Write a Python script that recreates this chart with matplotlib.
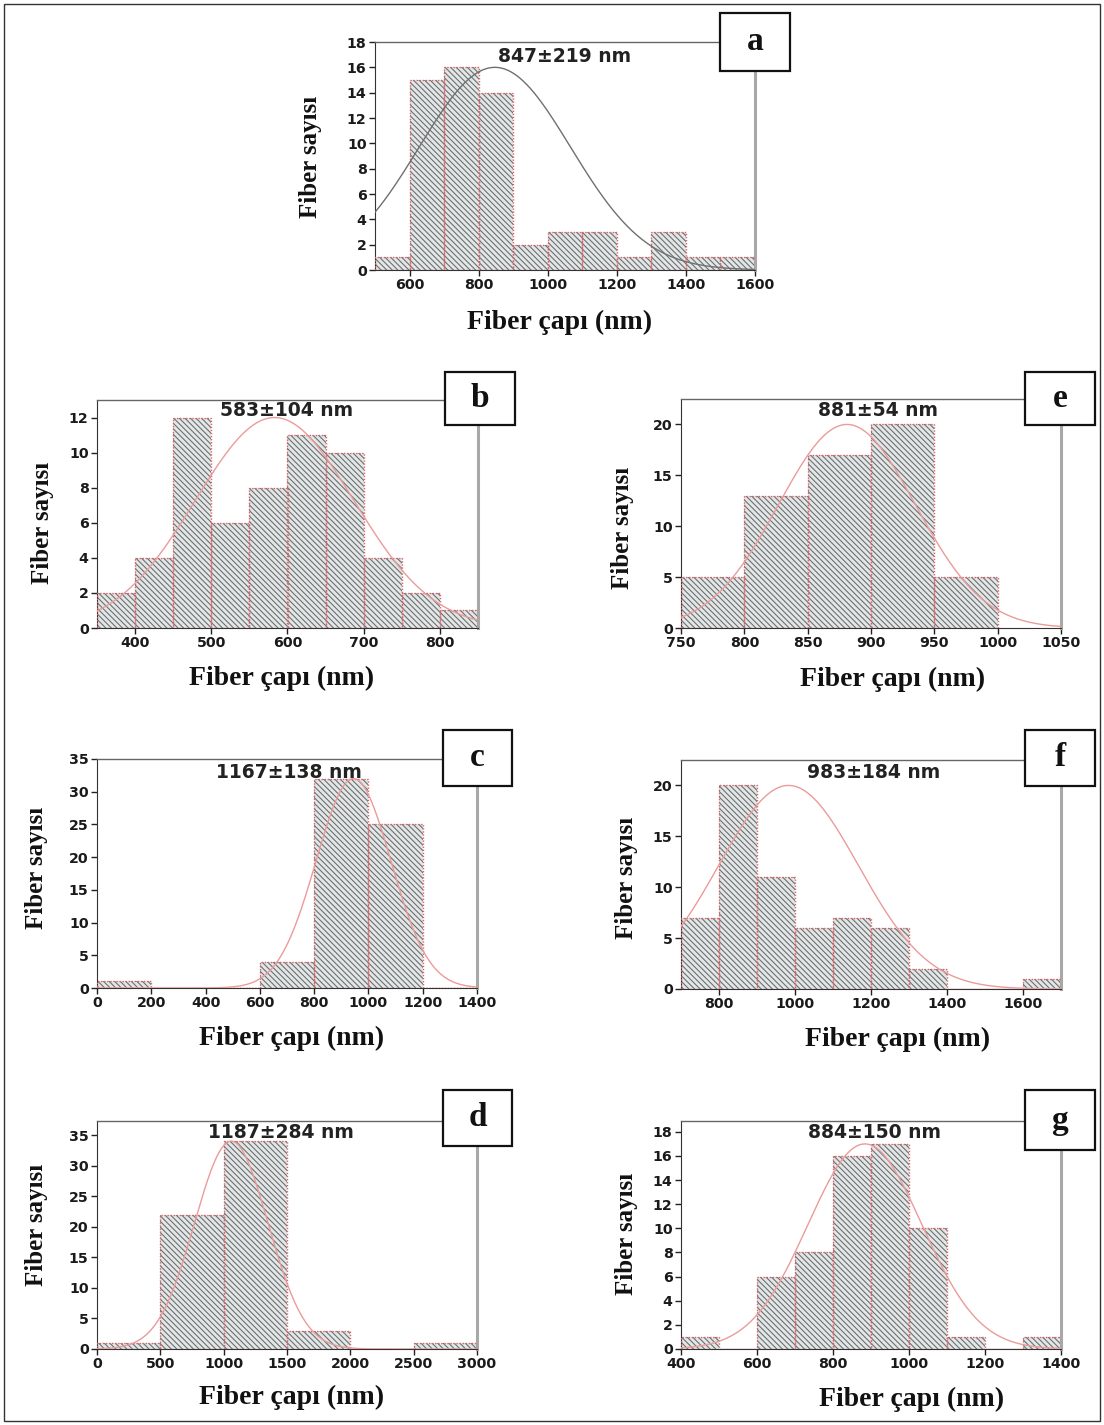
import matplotlib
matplotlib.use("Agg")
import matplotlib.pyplot as plt
import numpy as np
from matplotlib.patches import Rectangle

W, H = 1104, 1425

# histogram counts per panel (bins of equal width starting at bin_start)
panels     = ["a", "b", "e", "c", "f", "d", "g"]
bin_start  = {"a": 500, "b": 350, "e": 750, "c": 0,   "f": 700, "d": 0,   "g": 400}
bin_width  = {"a": 100, "b": 50,  "e": 50,  "c": 200, "f": 100, "d": 500, "g": 100}
counts = {
    "a": [1, 15, 16, 14, 2, 3, 3, 1, 3, 1, 1],
    "b": [2, 4, 12, 6, 8, 11, 10, 4, 2, 1],
    "e": [5, 13, 17, 20, 5],
    "c": [1, 0, 0, 4, 32, 25, 0],
    "f": [7, 20, 11, 6, 7, 6, 2, 0, 0, 1],
    "d": [1, 22, 34, 3, 0, 1],
    "g": [1, 0, 6, 8, 16, 17, 10, 1, 0, 1],
}
mean_sd = {"a": (847, 219), "b": (583, 104), "e": (881, 54), "c": (1167, 138),
           "f": (983, 184), "d": (1187, 284), "g": (884, 150)}
# normal fit curves as plotted: centre, width, height
fit_mu    = {"a": 847, "b": 583, "e": 881, "c": 945, "f": 983, "d": 1060, "g": 884}
fit_sigma = {"a": 219, "b": 104, "e": 54,  "c": 138, "f": 184, "d": 290,  "g": 150}
fit_peak  = {"a": 16,  "b": 12,  "e": 20,  "c": 32,  "f": 20,  "d": 34,   "g": 17}

xlims = {"a": (500, 1600), "b": (350, 850), "e": (750, 1050), "c": (0, 1400),
         "f": (700, 1700), "d": (0, 3000), "g": (400, 1400)}
ylims = {"a": 18, "b": 13, "e": 22.5, "c": 35, "f": 22.5, "d": 37.3, "g": 18.9}
xticks = {"a": np.arange(600, 1601, 200), "b": np.arange(400, 801, 100),
          "e": np.arange(750, 1051, 50), "c": np.arange(0, 1401, 200),
          "f": np.arange(800, 1601, 200), "d": np.arange(0, 3001, 500),
          "g": np.arange(400, 1401, 200)}
yticks = {"a": np.arange(0, 19, 2), "b": np.arange(0, 13, 2), "e": np.arange(0, 21, 5),
          "c": np.arange(0, 36, 5), "f": np.arange(0, 21, 5), "d": np.arange(0, 36, 5),
          "g": np.arange(0, 19, 2)}

# layout in pixels: axes (left, top, right, bottom), letter box, label spots
axes_px = {"a": (375, 42, 755, 270), "b": (97, 400, 478, 628), "e": (681, 399, 1061, 628),
           "c": (97, 759, 477, 988), "f": (681, 760, 1061, 989), "d": (97, 1121, 477, 1349),
           "g": (681, 1121, 1061, 1349)}
box_px = {"a": (720, 13, 790, 71), "b": (445, 372, 515, 425), "e": (1025, 372, 1095, 425),
          "c": (443, 730, 512, 786), "f": (1025, 730, 1095, 786), "d": (443, 1090, 512, 1146),
          "g": (1025, 1090, 1095, 1150)}
note_px = {"a": (565, 56), "b": (287, 410), "e": (878, 410), "c": (289, 772),
           "f": (874, 773), "d": (281, 1132), "g": (874, 1133)}
ylab_px = {"a": (310, 157), "b": (42, 523), "e": (622, 528), "c": (36, 868),
           "f": (626, 878), "d": (36, 1225), "g": (626, 1234)}
xlab_px = {"a": (560, 322), "b": (282, 678), "e": (893, 679), "c": (292, 1038),
           "f": (898, 1039), "d": (292, 1397), "g": (912, 1399)}

SERIF = "Liberation Serif"
SANS = "DejaVu Sans"
plt.rcParams["hatch.linewidth"] = 0.8

fig = plt.figure(figsize=(W / 100, H / 100), dpi=100)
fig.patch.set_facecolor("white")


def fx(x):
    return x / W


def fy(y):
    return 1 - y / H


for p in panels:
    l, t, r, b = axes_px[p]
    ax = fig.add_axes([fx(l), fy(b), (r - l) / W, (b - t) / H])
    n = len(counts[p])
    lefts = bin_start[p] + bin_width[p] * np.arange(n)
    # hatched grey fill, then red dotted outlines
    ax.bar(lefts, counts[p], width=bin_width[p], align="edge", facecolor="#e3e7e7",
           edgecolor="#6c7070", hatch="\\" * 6, linewidth=0, zorder=2)
    ax.bar(lefts, counts[p], width=bin_width[p], align="edge", facecolor="none",
           edgecolor="#d9646a", linestyle=(0, (1, 1.2)), linewidth=1.0, zorder=3)
    xs = np.linspace(*xlims[p], 400)
    ys = fit_peak[p] * np.exp(-(xs - fit_mu[p]) ** 2 / (2 * fit_sigma[p] ** 2))
    ax.plot(xs, ys, color="#707070" if p == "a" else "#ec9a9a", lw=1.0, zorder=4)

    ax.set_xlim(*xlims[p])
    ax.set_ylim(0, ylims[p])
    ax.set_xticks(xticks[p])
    ax.set_yticks(yticks[p])
    ax.tick_params(axis="both", direction="out", length=4, width=1, color="#222222",
                   labelsize=10.2, pad=2)
    for lab in ax.get_xticklabels() + ax.get_yticklabels():
        lab.set_fontfamily(SANS)
        lab.set_fontweight("bold")
        lab.set_color("#1a1a1a")
    ax.spines["left"].set_color("#333333")
    ax.spines["bottom"].set_color("#333333")
    ax.spines["top"].set_color("#666666")
    ax.spines["top"].set_linewidth(1.0)
    ax.spines["right"].set_color("#a8a8a8")
    ax.spines["right"].set_linewidth(2.2)

    mu, sd = mean_sd[p]
    nx, ny = note_px[p]
    fig.text(fx(nx), fy(ny), f"{mu}\u00b1{sd} nm", ha="center", va="center",
             fontsize=13.5, fontweight="bold", family=SANS, color="#222222")
    yx, yy = ylab_px[p]
    fig.text(fx(yx), fy(yy), "Fiber sayısı", rotation=90, ha="center", va="center",
             fontsize=18, fontweight="bold", family=SERIF, color="#111111")
    xx, xy = xlab_px[p]
    fig.text(fx(xx), fy(xy), "Fiber çapı (nm)", ha="center", va="center",
             fontsize=20, fontweight="bold", family=SERIF, color="#111111")

    bl, bt, br, bb = box_px[p]
    fig.patches.append(Rectangle((fx(bl), fy(bb)), (br - bl) / W, (bb - bt) / H,
                                 transform=fig.transFigure, facecolor="white",
                                 edgecolor="#111111", linewidth=1.6, zorder=5))
    fig.text(fx((bl + br) / 2), fy((bt + bb) / 2), p, ha="center", va="center",
             fontsize=24, fontweight="bold", family=SERIF, color="#111111", zorder=6)

# thin frame around the whole figure
fig.patches.append(Rectangle((fx(4), fy(1421)), (W - 8) / W, (H - 8) / H,
                             transform=fig.transFigure, facecolor="none",
                             edgecolor="#333333", linewidth=1.0, zorder=7))

fig.savefig("out.png", dpi=100)
